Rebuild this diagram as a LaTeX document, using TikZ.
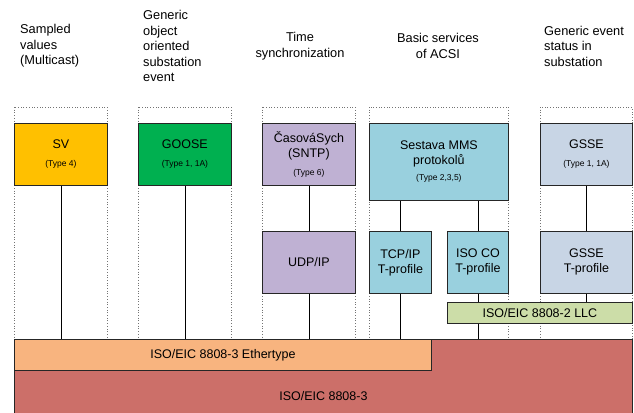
\documentclass[tikz,border=0pt]{standalone}
\usepackage{fontspec}
\setmainfont{Liberation Sans}
\definecolor{svfill}{HTML}{FFC000}
\definecolor{goosefill}{HTML}{00B050}
\definecolor{timefill}{HTML}{BFB1D3}
\definecolor{mmsfill}{HTML}{99D0DE}
\definecolor{gssefill}{HTML}{C8D5E5}
\definecolor{llcfill}{HTML}{CCDDA8}
\definecolor{ethfill}{HTML}{F8B47F}
\definecolor{macfill}{HTML}{CC6F69}
\newcommand\typelbl[1]{{\fontsize{8.5}{10}\selectfont #1}}
\begin{document}
\begin{tikzpicture}[x=1pt,y=-1pt,
  box/.style={draw=black!85, line width=0.8pt, inner sep=0pt, align=center,
    anchor=north west, font=\fontsize{12.5}{15}\selectfont},
  col/.style={draw=black!55, dotted, line width=0.7pt},
  link/.style={draw=black, line width=0.8pt},
  head/.style={inner sep=0pt, font=\fontsize{12.8}{15.5}\selectfont}]
\useasboundingbox (0,0) rectangle (634,412);
\clip (0,0) rectangle (634,412);

% column headings
\node[head, anchor=west, align=left] (h1) at (20,46) {Sampled\\values\\(Multicast)};
\node[head, anchor=west, align=left] (h2) at (143,46) {Generic\\object\\oriented\\substation\\event};
\node[head, align=center] (h3) at (300,46) {Time\\synchronization};
\node[head, align=center] (h4) at (438,46) {Basic services\\of ACSI};
\node[head, anchor=west, align=left] (h5) at (544,46) {Generic event\\status in\\substation};

% dotted column outlines
\draw[col] (14,107) rectangle (107,339);
\draw[col] (138,107) rectangle (231,339);
\draw[col] (262,107) rectangle (355,339);
\draw[col] (369,107) rectangle (508,339);
\draw[col] (540,107) rectangle (632,339);

% link layer
\node[box, fill=macfill, minimum width=618pt, minimum height=114pt] (mac) at (14,339) {ISO/EIC 8808-3};
\node[box, fill=ethfill, minimum width=417pt, minimum height=31pt] (eth) at (14,339) {ISO/EIC 8808-3 Ethertype};
\node[box, fill=llcfill, minimum width=185pt, minimum height=21pt] (llc) at (447,302) {ISO/EIC 8808-2 LLC};

% application boxes
\node[box, fill=svfill, minimum width=93pt, minimum height=62pt] (sv) at (14,123) {SV\\[3pt]\typelbl{(Type 4)}};
\node[box, fill=goosefill, minimum width=93pt, minimum height=62pt] (goose) at (138,123) {GOOSE\\[3pt]\typelbl{(Type 1, 1A)}};
\node[box, fill=timefill, minimum width=93pt, minimum height=62pt] (sntp) at (262,123) {ČasováSych\\(SNTP)\\[3pt]\typelbl{(Type 6)}};
\node[box, fill=mmsfill, minimum width=139pt, minimum height=77pt] (mms) at (369,123) {Sestava MMS\\protokolů\\[1pt]\typelbl{(Type 2,3,5)}};
\node[box, fill=gssefill, minimum width=92pt, minimum height=62pt] (gsse) at (540,123) {GSSE\\[3pt]\typelbl{(Type 1, 1A)}};

% transport boxes
\node[box, fill=timefill, minimum width=93pt, minimum height=62pt] (udp) at (262,231) {UDP/IP};
\node[box, fill=mmsfill, minimum width=62pt, minimum height=62pt] (tcp) at (369,231) {TCP/IP\\T-profile};
\node[box, fill=mmsfill, minimum width=61pt, minimum height=62pt] (isoco) at (447,231) {ISO CO\\T-profile};
\node[box, fill=gssefill, minimum width=92pt, minimum height=62pt] (gsset) at (540,231) {GSSE\\T-profile};

% connectors
\draw[link] (sv.south) -- (sv.south |- eth.north);
\draw[link] (goose.south) -- (goose.south |- eth.north);
\draw[link] (sntp.south) -- (udp.north);
\draw[link] (udp.south) -- (udp.south |- eth.north);
\draw[link] (tcp.north) -- (tcp.north |- mms.south);
\draw[link] (isoco.north) -- (isoco.north |- mms.south);
\draw[link] (tcp.south) -- (tcp.south |- eth.north);
\draw[link] (isoco.south) -- (isoco.south |- llc.north);
\draw[link] (llc.south -| isoco.south) -- (isoco.south |- mac.north);
\draw[link] (gsse.south) -- (gsset.north);
\draw[link] (gsset.south) -- (gsset.south |- llc.north);
\end{tikzpicture}
\end{document}
